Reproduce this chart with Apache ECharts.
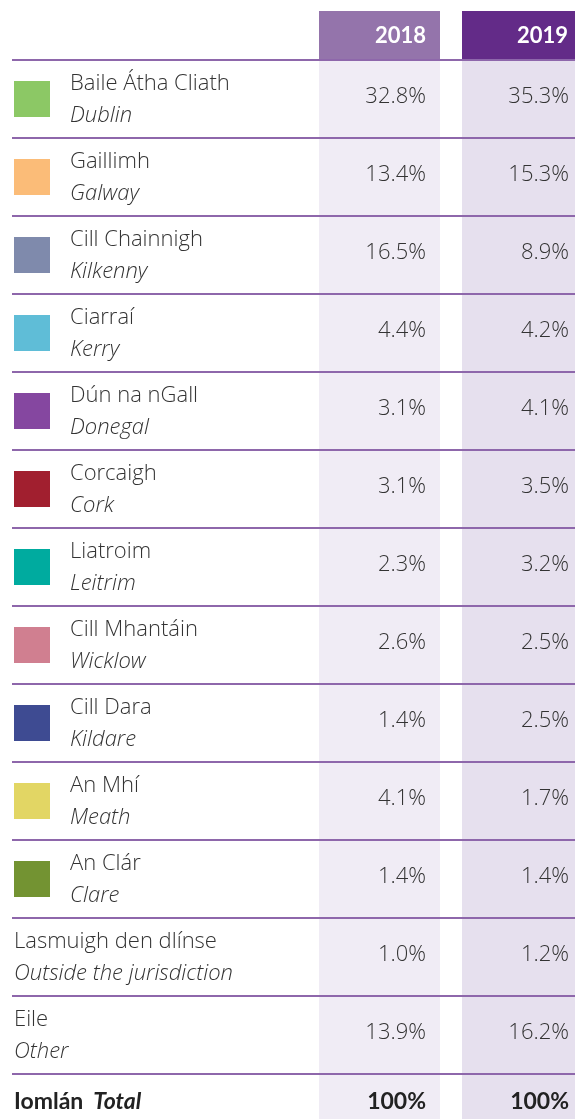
<!DOCTYPE html>
<html>
<head>
<meta charset="utf-8">
<script src="https://cdn.jsdelivr.net/npm/echarts@6/dist/echarts.min.js"></script>
<style>
  html, body { margin: 0; padding: 0; background: #fff; }
  #main { width: 575px; height: 1119px; }
</style>
</head>
<body>
<div id="main"></div>
<script>
// row names (Irish / English)
const irishNames = ['Baile Átha Cliath', 'Gaillimh', 'Cill Chainnigh', 'Ciarraí', 'Dún na nGall', 'Corcaigh',
  'Liatroim', 'Cill Mhantáin', 'Cill Dara', 'An Mhí', 'An Clár', 'Lasmuigh den dlínse', 'Eile', 'Iomlán']
const englishNames = ['Dublin', 'Galway', 'Kilkenny', 'Kerry', 'Donegal', 'Cork',
  'Leitrim', 'Wicklow', 'Kildare', 'Meath', 'Clare', 'Outside the jurisdiction', 'Other', 'Total']
const years = ['2018', '2019']
const values2018 = [32.8, 13.4, 16.5, 4.4, 3.1, 3.1, 2.3, 2.6, 1.4, 4.1, 1.4, 1.0, 13.9, 100]
const values2019 = [35.3, 15.3, 8.9, 4.2, 4.1, 3.5, 3.2, 2.5, 2.5, 1.7, 1.4, 1.2, 16.2, 100]

// swatch colours, null = no swatch
const swatchColors = ['#8cc865', '#fbbc78', '#7f8aac', '#5fbdd7', '#8547a0', '#a11f2f',
  '#00ab9f', '#d07f90', '#3e4b92', '#e2d664', '#739332', null, null, null]

const headColors = ['#9474ab', '#632b88']
const colBg = ['#f0ecf5', '#e6e0ee']
const lineColor = '#8e67ab'
const textColor = '#333'
const fontFam = '"Open Sans", Lato, sans-serif'
const boldFont = 'Lato, "Open Sans", sans-serif'

// layout (px)
const cols = [[319, 440], [462, 575]]
const top0 = 60
const rowH = 78

const chart = echarts.init(document.getElementById('main'))

function fmt(v, i) {
  return i === values2018.length - 1 ? v + '%' : v.toFixed(1) + '%'
}

function renderItem(params, api) {
  const i = api.value(1)
  const c = api.coord([0, i])
  const bandH = api.size([0, 1])[1]
  const top = c[1] - bandH / 2
  const isTotal = i === irishNames.length - 1
  const mid = isTotal ? top + 28 : c[1]
  const children = []

  // column backgrounds
  cols.forEach((col, k) => {
    children.push({
      type: 'rect',
      shape: { x: col[0], y: top, width: col[1] - col[0], height: bandH + 1 },
      style: { fill: colBg[k] },
      z2: 0
    })
  })

  // lines
  if (i === 0) {
    children.push({
      type: 'line', shape: { x1: 12, y1: top, x2: 575, y2: top },
      style: { stroke: lineColor, lineWidth: 2 }, z2: 10
    })
  }
  if (!isTotal) {
    children.push({
      type: 'line', shape: { x1: 12, y1: top + bandH, x2: 575, y2: top + bandH },
      style: { stroke: lineColor, lineWidth: 2 }, z2: 10
    })
  }

  const sw = swatchColors[i]
  const textX = sw ? 70 : 14
  if (sw) {
    children.push({
      type: 'rect',
      shape: { x: 14, y: c[1] - 18, width: 36, height: 36 },
      style: { fill: sw }, z2: 5
    })
  }

  if (isTotal) {
    children.push({
      type: 'text', z2: 5,
      style: {
        x: 14, y: mid, verticalAlign: 'middle', align: 'left',
        text: '{b|' + irishNames[i] + '}{bi|' + englishNames[i] + '}',
        rich: {
          b: { fontFamily: boldFont, fontSize: 23, fontWeight: 'bold', fill: '#222', padding: [0, 10, 0, 0] },
          bi: { fontFamily: boldFont, fontSize: 23, fontWeight: 'bold', fontStyle: 'italic', fill: '#222' }
        }
      }
    })
  } else {
    children.push({
      type: 'text', z2: 5,
      style: {
        x: textX, y: c[1] - 15, verticalAlign: 'middle', align: 'left',
        text: irishNames[i], fontFamily: fontFam, fontSize: 22, fontWeight: 300, fill: textColor
      }
    })
    children.push({
      type: 'text', z2: 5,
      style: {
        x: textX, y: c[1] + 17, verticalAlign: 'middle', align: 'left',
        text: englishNames[i], fontFamily: fontFam, fontSize: 22, fontWeight: 300, fontStyle: 'italic', fill: textColor
      }
    })
  }

  const vals = [api.value(2), api.value(3)]
  vals.forEach((v, k) => {
    children.push({
      type: 'text', z2: 5,
      style: {
        x: cols[k][1] - (k === 0 ? 14 : 6), y: isTotal ? mid : mid - 2, align: 'right', verticalAlign: 'middle',
        text: fmt(v, i), fontFamily: isTotal ? boldFont : fontFam, fontSize: isTotal ? 23 : 22,
        fontWeight: isTotal ? 'bold' : 300, fill: isTotal ? '#222' : textColor
      }
    })
  })

  return { type: 'group', children }
}

const tableData = irishNames.map((n, i) => [0, i, values2018[i], values2019[i]])

// header boxes
const header = []
years.forEach((y, k) => {
  header.push({
    type: 'rect',
    shape: { x: cols[k][0], y: 11, width: cols[k][1] - cols[k][0], height: 49 },
    style: { fill: headColors[k] }
  })
  header.push({
    type: 'text',
    style: {
      x: cols[k][1] - (k === 0 ? 14 : 7), y: 36, align: 'right', verticalAlign: 'middle',
      text: y, fontFamily: boldFont, fontSize: 22, fontWeight: 'bold', fill: '#fff'
    }
  })
})

const option = {
  animation: false,
  grid: { left: 0, right: 0, top: top0, bottom: 0 },
  xAxis: { type: 'value', min: 0, max: 575, show: false },
  // one unit per row, each row rowH px tall
  yAxis: { type: 'value', inverse: true, show: false, min: -0.5, max: -0.5 + (1119 - top0) / rowH },
  graphic: header,
  series: [{
    type: 'custom',
    renderItem,
    encode: { x: 0, y: 1 },
    data: tableData,
    clip: false
  }]
}
chart.setOption(option)
</script>
</body>
</html>
